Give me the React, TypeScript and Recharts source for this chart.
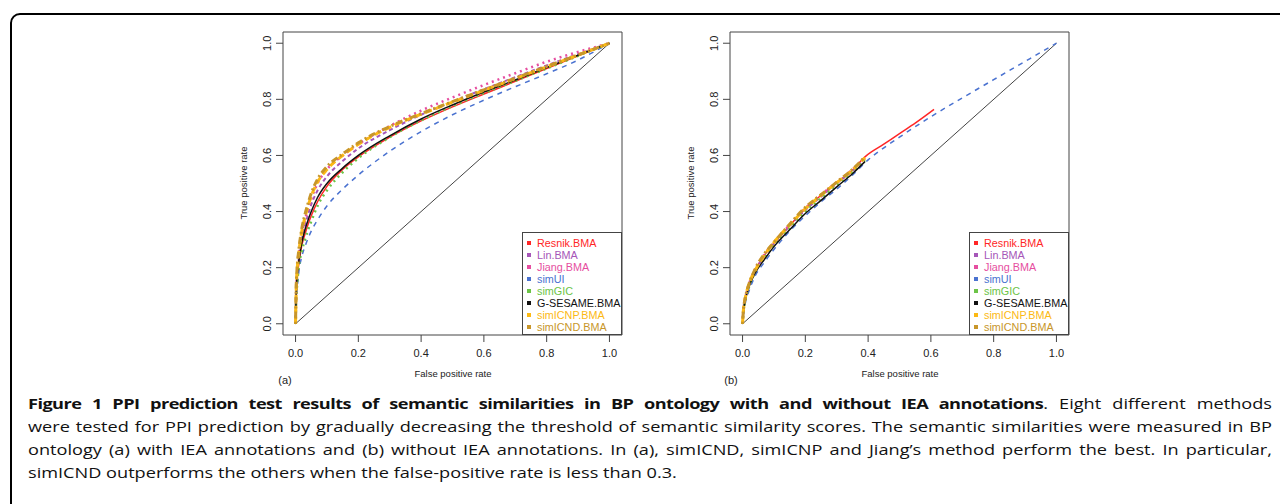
import React from 'react';
import { LineChart, Line, XAxis, YAxis, ReferenceArea, ReferenceLine, Legend } from 'recharts';

// method names, same order in both panels and the legend
const methods = ['Resnik.BMA', 'Lin.BMA', 'Jiang.BMA', 'simUI', 'simGIC', 'G-SESAME.BMA', 'simICNP.BMA', 'simICND.BMA'];
const axisTicks = [0, 0.2, 0.4, 0.6, 0.8, 1.0];

// panel (a): with IEA annotations
const fprA = [0, 0.002, 0.005, 0.01, 0.02, 0.03, 0.04, 0.05, 0.07, 0.1, 0.15, 0.2, 0.3, 0.4, 0.5, 0.6, 0.7, 0.8, 0.9, 1];
const resnikA = [0, 0.1, 0.16, 0.21, 0.28, 0.32, 0.355, 0.385, 0.435, 0.49, 0.55, 0.595, 0.665, 0.723, 0.773, 0.819, 0.864, 0.91, 0.955, 1];
const linA = [0, 0.11, 0.17, 0.23, 0.3, 0.35, 0.39, 0.425, 0.475, 0.525, 0.58, 0.625, 0.69, 0.745, 0.792, 0.836, 0.879, 0.921, 0.961, 1];
const jiangA = [0, 0.11, 0.18, 0.24, 0.32, 0.37, 0.41, 0.445, 0.5, 0.55, 0.6, 0.64, 0.705, 0.76, 0.807, 0.851, 0.893, 0.934, 0.969, 1];
const simUIA = [0, 0.07, 0.12, 0.18, 0.24, 0.275, 0.305, 0.33, 0.37, 0.42, 0.48, 0.53, 0.615, 0.685, 0.745, 0.797, 0.845, 0.891, 0.94, 1];
const simGICA = [0, 0.09, 0.14, 0.2, 0.26, 0.3, 0.335, 0.365, 0.42, 0.475, 0.54, 0.59, 0.665, 0.725, 0.776, 0.822, 0.866, 0.91, 0.955, 1];
const gsesameA = [0, 0.11, 0.17, 0.22, 0.29, 0.335, 0.37, 0.4, 0.45, 0.5, 0.555, 0.6, 0.67, 0.73, 0.78, 0.826, 0.869, 0.913, 0.957, 1];
const icnpA = [0, 0.12, 0.19, 0.25, 0.33, 0.38, 0.42, 0.455, 0.505, 0.55, 0.6, 0.64, 0.7, 0.747, 0.79, 0.832, 0.874, 0.916, 0.958, 1];
const icndA = [0, 0.13, 0.2, 0.26, 0.34, 0.39, 0.43, 0.465, 0.515, 0.56, 0.605, 0.645, 0.703, 0.749, 0.792, 0.834, 0.875, 0.917, 0.958, 1];

// panel (b): without IEA annotations (most curves stop early)
const fprB = [0, 0.002, 0.005, 0.01, 0.02, 0.04, 0.07, 0.1, 0.15, 0.2, 0.25, 0.3, 0.35, 0.39];
const fprBResnik = [0, 0.002, 0.005, 0.01, 0.02, 0.04, 0.07, 0.1, 0.15, 0.2, 0.25, 0.3, 0.35, 0.39, 0.45, 0.5, 0.55, 0.61];
const fprBSimUI = [0, 0.002, 0.005, 0.01, 0.02, 0.04, 0.07, 0.1, 0.15, 0.2, 0.25, 0.3, 0.35, 0.4, 0.5, 0.6, 0.7, 0.8, 0.9, 1];
const resnikB = [0, 0.035, 0.065, 0.095, 0.135, 0.19, 0.245, 0.288, 0.35, 0.41, 0.458, 0.503, 0.548, 0.595, 0.64, 0.678, 0.715, 0.764];
const linB = [0, 0.035, 0.065, 0.095, 0.135, 0.19, 0.24, 0.285, 0.348, 0.405, 0.453, 0.5, 0.545, 0.588];
const jiangB = [0, 0.04, 0.07, 0.1, 0.14, 0.195, 0.248, 0.29, 0.353, 0.412, 0.46, 0.505, 0.55, 0.593];
const simUIB = [0, 0.025, 0.05, 0.08, 0.115, 0.17, 0.22, 0.265, 0.33, 0.385, 0.435, 0.48, 0.53, 0.584, 0.665, 0.738, 0.805, 0.87, 0.935, 1];
const simGICB = [0, 0.03, 0.06, 0.09, 0.13, 0.185, 0.235, 0.28, 0.34, 0.4, 0.448, 0.495, 0.54, 0.583];
const gsesameB = [0, 0.03, 0.06, 0.09, 0.13, 0.18, 0.23, 0.275, 0.335, 0.393, 0.44, 0.488, 0.535, 0.578];
const icnpB = [0, 0.04, 0.07, 0.1, 0.14, 0.19, 0.245, 0.29, 0.352, 0.41, 0.458, 0.503, 0.548, 0.592];
const icndB = [0, 0.04, 0.07, 0.1, 0.14, 0.195, 0.25, 0.29, 0.355, 0.415, 0.46, 0.505, 0.55, 0.595];

// line styles per method
const colors = ['#ff2626', '#a656b8', '#e64ea0', '#4a72d0', '#6cc447', '#111111', '#fcb913', '#c8962a'];
const dashes = ['', '4 3', '2 4', '5 5', '2 4', '', '7 4', '2 3 7 3'];
const widths = [1.5, 2, 2.5, 1.5, 2.5, 1.5, 3, 3];

const toPoints = (xs: number[], ys: number[]) => xs.map((x, i) => ({ x, y: ys[i] }));

const seriesA = [
  toPoints(fprA, resnikA), toPoints(fprA, linA), toPoints(fprA, jiangA), toPoints(fprA, simUIA),
  toPoints(fprA, simGICA), toPoints(fprA, gsesameA), toPoints(fprA, icnpA), toPoints(fprA, icndA),
];
const seriesB = [
  toPoints(fprBResnik, resnikB), toPoints(fprB, linB), toPoints(fprB, jiangB), toPoints(fprBSimUI, simUIB),
  toPoints(fprB, simGICB), toPoints(fprB, gsesameB), toPoints(fprB, icnpB), toPoints(fprB, icndB),
];

const FONT = '"Liberation Sans", Arial, sans-serif';

const YTick = (props: any) => {
  const { x, y, payload } = props;
  const cx = x - 7;
  return (
    <text x={cx} y={y} transform={`rotate(-90 ${cx} ${y})`} textAnchor="middle" dominantBaseline="central"
      fontSize={11} fill="#222" fontFamily={FONT}>
      {Number(payload.value).toFixed(1)}
    </text>
  );
};

const renderLegend = () => (
  <div style={{ width: 100, height: 103, boxSizing: 'border-box', border: '1px solid #444', background: '#fff', padding: '4px 0 0 4px', fontFamily: FONT, fontSize: 10.8 }}>
    {methods.map((m, i) => (
      <div key={m} style={{ height: 12, lineHeight: '12px', color: colors[i], display: 'flex', alignItems: 'center', whiteSpace: 'nowrap' }}>
        <span style={{ display: 'inline-block', width: 4, height: 4, background: colors[i], marginRight: 6 }} />
        {m}
      </div>
    ))}
  </div>
);

function RocPanel({ series, left, tag, tagLeft }: { series: { x: number; y: number }[][]; left: number; tag: string; tagLeft: number }) {
  return (
    <>
      <div style={{ position: 'absolute', left, top: 20 }}>
        <LineChart width={440} height={345} margin={{ top: 12, right: 18, bottom: 0, left: 0 }}>
          <XAxis type="number" dataKey="x" domain={[-0.04, 1.04]} ticks={axisTicks} allowDataOverflow
            axisLine={false} tickSize={7} tickMargin={7} height={30} stroke="#444"
            tick={{ fontSize: 11, fill: '#222', fontFamily: FONT }} tickFormatter={(v: number) => v.toFixed(1)} />
          <YAxis type="number" dataKey="y" domain={[-0.04, 1.04]} ticks={axisTicks} allowDataOverflow
            axisLine={false} tickSize={7} width={83} stroke="#444" tick={<YTick />} />
          <ReferenceArea x1={-0.04} x2={1.04} y1={-0.04} y2={1.04} fill="none" stroke="#444" strokeWidth={1} ifOverflow="visible" />
          <ReferenceLine segment={[{ x: 0, y: 0 }, { x: 1, y: 1 }]} stroke="#444" strokeWidth={1} />
          {series.map((pts, i) => (
            <Line key={methods[i]} data={pts} dataKey="y" name={methods[i]} type="monotone" dot={false}
              stroke={colors[i]} strokeWidth={widths[i]} strokeDasharray={dashes[i] || undefined}
              isAnimationActive={false} />
          ))}
          <Legend layout="vertical" align="center" verticalAlign="middle" content={renderLegend}
            wrapperStyle={{ position: 'absolute', left: 322, top: 212, width: 100, height: 103 }} />
        </LineChart>
      </div>
      <div style={{ position: 'absolute', left: left + 43, top: 183, width: 0, height: 0 }}>
        <div style={{ position: 'absolute', transform: 'translate(-50%, -50%) rotate(-90deg)', whiteSpace: 'nowrap', fontFamily: FONT, fontSize: 9.5, color: '#222' }}>
          True positive rate
        </div>
      </div>
      <div style={{ position: 'absolute', left: left + 253, top: 373, width: 0, height: 0 }}>
        <div style={{ position: 'absolute', transform: 'translate(-50%, -50%)', whiteSpace: 'nowrap', fontFamily: FONT, fontSize: 9.5, color: '#222' }}>
          False positive rate
        </div>
      </div>
      <div style={{ position: 'absolute', left: tagLeft, top: 380, width: 0, height: 0 }}>
        <div style={{ position: 'absolute', transform: 'translate(-50%, -50%)', whiteSpace: 'nowrap', fontFamily: FONT, fontSize: 11, color: '#222' }}>
          {tag}
        </div>
      </div>
    </>
  );
}

// caption text is set in a wide face: render at 15px and stretch horizontally
const STRETCH = 1.21;
const lineStyle: React.CSSProperties = {
  position: 'absolute', left: 28, width: 1244 / STRETCH, height: 23, lineHeight: '23px',
  fontFamily: '"Open Sans", sans-serif', fontSize: 15, color: '#111',
  textAlign: 'justify', textAlignLast: 'justify',
  transform: `scaleX(${STRETCH})`, transformOrigin: '0 0',
};

export default function App() {
  return (
    <div style={{ position: 'absolute', left: 0, top: 0, width: 1280, height: 504, overflow: 'hidden', background: '#fff' }}>
      <div style={{ position: 'absolute', left: 10, top: 13, width: 1300, height: 540, border: '2px solid #000', borderRadius: 10 }} />
      <RocPanel series={seriesA} left={200} tag="(a)" tagLeft={285} />
      <RocPanel series={seriesB} left={647} tag="(b)" tagLeft={731} />
      <div style={{ ...lineStyle, top: 392 }}>
        <b style={{ letterSpacing: -0.45 }}>Figure 1 PPI prediction test results of semantic similarities in BP ontology with and without IEA annotations</b>. Eight different methods
      </div>
      <div style={{ ...lineStyle, top: 415 }}>
        were tested for PPI prediction by gradually decreasing the threshold of semantic similarity scores. The semantic similarities were measured in BP
      </div>
      <div style={{ ...lineStyle, top: 438 }}>
        ontology (a) with IEA annotations and (b) without IEA annotations. In (a), simICND, simICNP and Jiang’s method perform the best. In particular,
      </div>
      <div style={{ ...lineStyle, top: 461, textAlignLast: 'left' }}>
        simICND outperforms the others when the false-positive rate is less than 0.3.
      </div>
    </div>
  );
}
